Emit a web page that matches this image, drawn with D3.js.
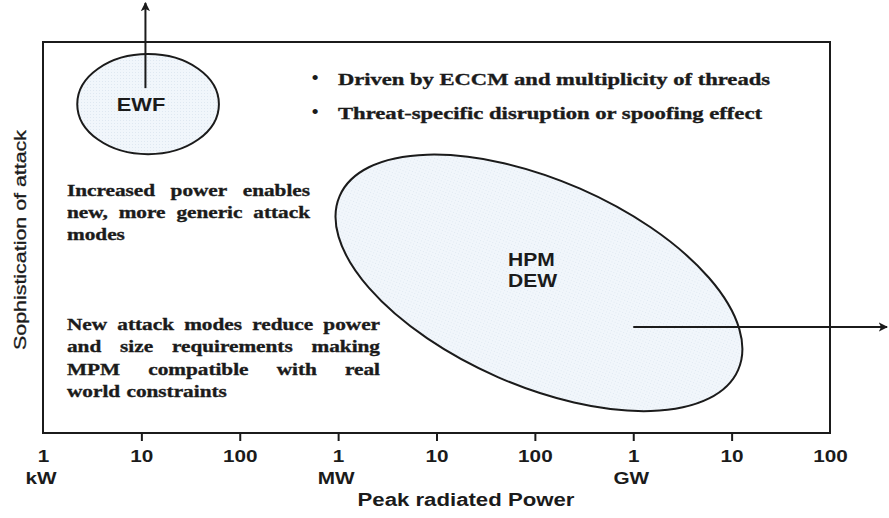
<!DOCTYPE html>
<html><head><meta charset="utf-8">
<script src="https://cdn.jsdelivr.net/npm/d3@7"></script>
<style>body{margin:0;background:#fff}</style>
</head><body>
<svg id="chart" width="889" height="518"></svg>
<script>
// ---- data ----
const powerTicks = [1e3, 1e4, 1e5, 1e6, 1e7, 1e8, 1e9, 1e10, 1e11];
const tickLabels = ["1", "10", "100", "1", "10", "100", "1", "10", "100"];
const unitTicks = [1e3, 1e6, 1e9];
const unitLabels = ["kW", "MW", "GW"];
const regionNames = ["EWF", "HPM DEW"];
const regionPower = [1.17e4, 1.1e8];        // centre, W
const regionSoph = [8.41, 3.84];            // centre, sophistication level
const regionSpanDecades = [0.72, 2.21];     // semi-axis along power (decades)
const regionSpanSoph = [1.28, 2.63];        // semi-axis along sophistication
const regionTilt = [0, 23.6];               // degrees
const arrowFromPower = [1.1e4, 1e9];
const arrowFromSoph = [8.82, 2.71];
const arrowToPower = [1.1e4, 3.8e11];
const arrowToSoph = [11.0, 2.71];
const bulletLines = ["Driven by ECCM and multiplicity of threads", "Threat-specific disruption or spoofing effect"];
const noteA = ["Increased power enables", "new, more generic attack", "modes"];
const noteB = ["New attack modes reduce power", "and size requirements making", "MPM compatible with real", "world constraints"];

// ---- layout ----
const svg = d3.select("#chart");
const mL = 43, mR = 830, mT = 42, mB = 433;
const x = d3.scaleLog().domain([1e3, 1e11]).range([mL, mR]);
const y = d3.scaleLinear().domain([0, 10]).range([mB, mT]);
const SANS = "'Liberation Sans', Arial, sans-serif";
const SERIF = "'Liberation Serif', 'Times New Roman', serif";
const ink = "#1b1b1b";

const defs = svg.append("defs");
const pat = defs.append("pattern").attr("id", "dots").attr("width", 3).attr("height", 3)
  .attr("patternUnits", "userSpaceOnUse");
pat.append("rect").attr("width", 3).attr("height", 3).attr("fill", "#f1f6fb");
pat.append("rect").attr("width", 1).attr("height", 1).attr("fill", "#dfe8f1");
defs.append("marker").attr("id", "head").attr("viewBox", "0 0 10 10")
  .attr("refX", 9).attr("refY", 5).attr("markerWidth", 4.6).attr("markerHeight", 4.6)
  .attr("markerUnits", "strokeWidth").attr("orient", "auto")
  .append("path").attr("d", "M0,0 L10,5 L0,10 L2.5,5 Z").attr("fill", ink);

// frame
svg.append("rect").attr("x", mL).attr("y", mT).attr("width", mR - mL).attr("height", mB - mT)
  .attr("fill", "none").attr("stroke", ink).attr("stroke-width", 2);

// regions
regionNames.forEach((name, i) => {
  const cx = x(regionPower[i]), cy = y(regionSoph[i]);
  const rx = x(regionPower[i] * Math.pow(10, regionSpanDecades[i])) - cx;
  const ry = y(0) - y(regionSpanSoph[i]);
  svg.append("ellipse").attr("cx", cx).attr("cy", cy).attr("rx", rx).attr("ry", ry)
    .attr("transform", `rotate(${regionTilt[i]},${cx},${cy})`)
    .attr("fill", "url(#dots)").attr("stroke", ink).attr("stroke-width", 2);
});

// arrows
arrowFromPower.forEach((p, i) => {
  svg.append("line").attr("x1", x(p)).attr("y1", y(arrowFromSoph[i]))
    .attr("x2", x(arrowToPower[i])).attr("y2", y(arrowToSoph[i]))
    .attr("stroke", ink).attr("stroke-width", 2).attr("marker-end", "url(#head)");
});

// region labels
function stretchedText(tx, ty, str, size, sx, anchor) {
  return svg.append("text").attr("transform", `translate(${tx},${ty}) scale(${sx},1)`)
    .attr("text-anchor", anchor || "middle").attr("font-family", SANS).attr("font-weight", "bold")
    .attr("font-size", size).attr("fill", ink).text(str);
}
stretchedText(141, 111, regionNames[0], 19, 1.15);
regionNames[1].split(" ").forEach((w, k) => stretchedText(508, 266 + k * 21, w, 18, 1.17, "start"));

// x axis
const axis = d3.axisBottom(x).tickValues(powerTicks).tickSize(8)
  .tickFormat((d, i) => tickLabels[i]);
const gx = svg.append("g").attr("transform", `translate(0,${mB})`).call(axis);
gx.select(".domain").remove();
gx.selectAll(".tick line").attr("stroke", ink).attr("stroke-width", 2)
  .attr("display", (d, i) => (i === 0 || i === powerTicks.length - 1) ? "none" : null);
gx.selectAll(".tick text").attr("y", 29).attr("dy", 0)
  .attr("transform", "scale(1.22,1)")
  .attr("font-family", SANS).attr("font-weight", "bold").attr("font-size", 17).attr("fill", ink);

unitTicks.forEach((p, i) => stretchedText(x(p) - 2, 484, unitLabels[i], 17, 1.22));

// axis titles
svg.append("text").attr("x", 466).attr("y", 506).attr("text-anchor", "middle")
  .attr("font-family", SANS).attr("font-weight", "bold").attr("font-size", 18).attr("fill", ink)
  .attr("textLength", 217).attr("lengthAdjust", "spacingAndGlyphs").text("Peak radiated Power");
svg.append("text").attr("transform", "translate(25.5,240) rotate(-90)").attr("text-anchor", "middle")
  .attr("font-family", SANS).attr("font-size", 16.5).attr("fill", ink)
  .attr("stroke", ink).attr("stroke-width", 0.3)
  .attr("textLength", 220).attr("lengthAdjust", "spacingAndGlyphs").text("Sophistication of attack");

// bullets
const bulletBase = [85, 119], bulletLen = [432, 424];
bulletLines.forEach((t, i) => {
  svg.append("text").attr("x", 315).attr("y", bulletBase[i]).attr("text-anchor", "middle")
    .attr("font-family", SERIF).attr("font-size", 22).attr("fill", ink).text("•");
  svg.append("text").attr("x", 338).attr("y", bulletBase[i])
    .attr("font-family", SERIF).attr("font-weight", "bold").attr("font-size", 17).attr("fill", ink)
    .attr("stroke", ink).attr("stroke-width", 0.35)
    .attr("textLength", bulletLen[i]).attr("lengthAdjust", "spacingAndGlyphs").text(t);
});

// justified notes
function justified(lines, x0, y0, width, lineH, sx) {
  lines.forEach((line, li) => {
    const g = svg.append("g").attr("transform", `translate(${x0},${y0 + li * lineH}) scale(${sx},1)`);
    const words = line.split(" ");
    const nodes = words.map(w => g.append("text").attr("font-family", SERIF).attr("font-weight", "bold")
      .attr("font-size", 17).attr("fill", ink).attr("stroke", ink).attr("stroke-width", 0.35).text(w));
    const widths = nodes.map(n => n.node().getComputedTextLength());
    const sum = d3.sum(widths);
    const last = li === lines.length - 1;
    const gap = (last || words.length < 2) ? 17 * 0.3 : (width / sx - sum) / (words.length - 1);
    let cur = 0;
    nodes.forEach((n, k) => { n.attr("x", cur); cur += widths[k] + gap; });
  });
}
justified(noteA, 67, 196, 243, 22, 1.25);
justified(noteB, 67, 330, 313, 22.3, 1.25);
</script>
</body></html>
